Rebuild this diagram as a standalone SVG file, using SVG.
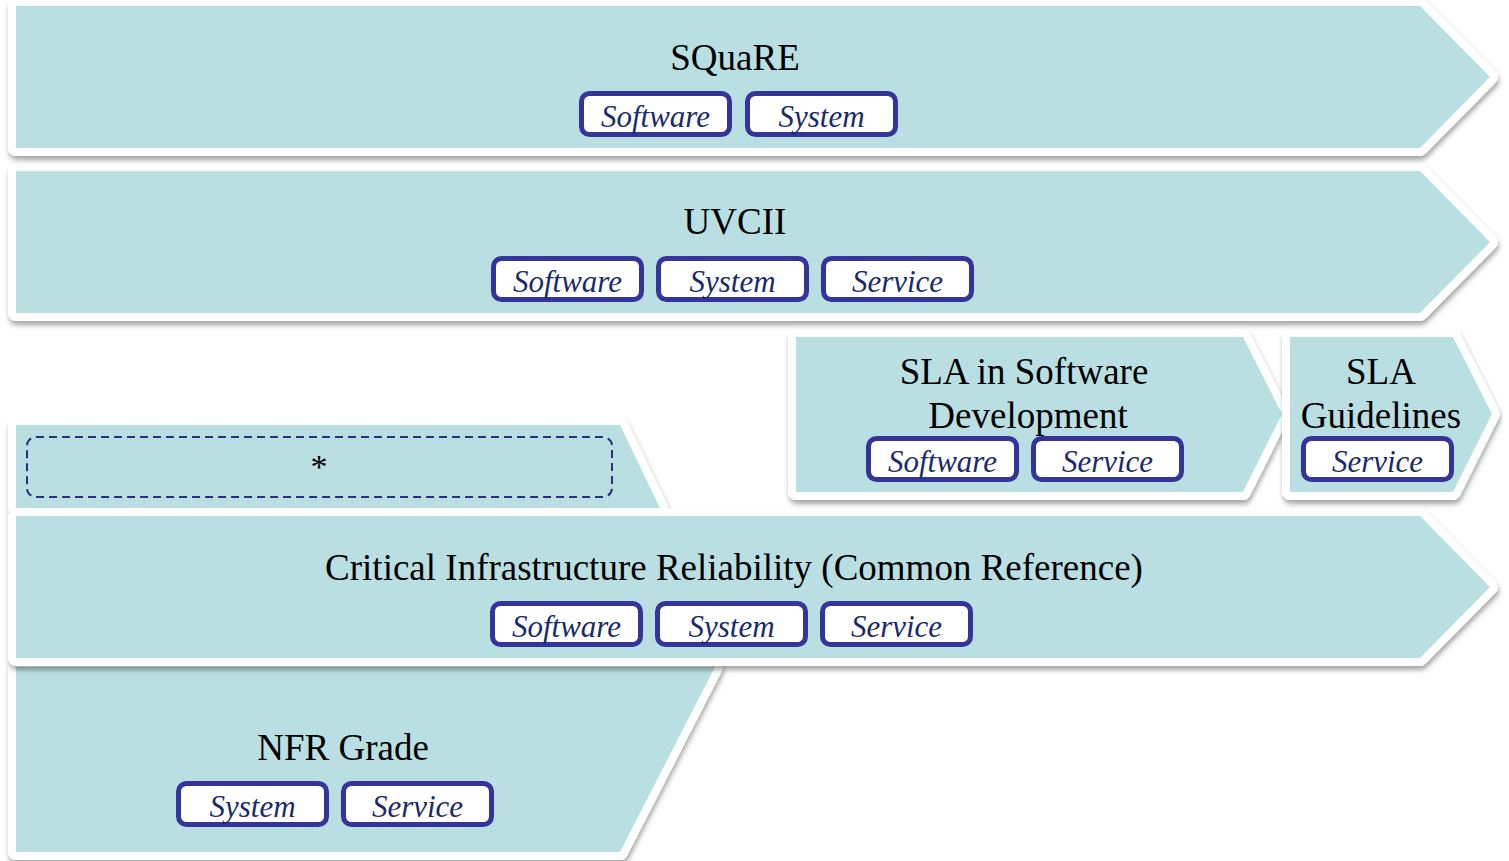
<svg xmlns="http://www.w3.org/2000/svg" width="1509" height="861" viewBox="0 0 1509 861">
<defs>
<filter id="sh" x="-5%" y="-10%" width="110%" height="130%">
<feDropShadow dx="1" dy="4" stdDeviation="2.5" flood-color="#000" flood-opacity="0.35"/>
</filter>
<style>
.band{fill:#B9DFE2;stroke:#fff;stroke-width:16;stroke-linejoin:round;paint-order:stroke fill;}
.title{font-family:"Liberation Serif","Times New Roman",serif;font-size:37px;fill:#000;text-anchor:middle;}
.tag rect{fill:#fff;stroke:#35349A;stroke-width:5;}
.tag text{font-family:"Liberation Serif","Times New Roman",serif;font-style:italic;font-size:31px;fill:#1B2A6B;text-anchor:middle;}
.dash{fill:none;stroke:#2B2E7A;stroke-width:2;stroke-dasharray:8,5;}
</style>
</defs>
<rect width="1509" height="861" fill="#fff"/>

<g id="nfr" filter="url(#sh)">
<path class="band" d="M16,667 H715 L620,852 H16 Z"/>
</g>
<g id="star" filter="url(#sh)">
<path class="band" d="M16,425 H620 L660,508 H16 Z"/>
</g>
<g id="sla-dev" filter="url(#sh)">
<path class="band" d="M796,337 H1243 L1282,414 L1243,492 H796 Z"/>
</g>
<g id="sla-guide" filter="url(#sh)">
<path class="band" d="M1290,337 H1453 L1492,414 L1453,492 H1290 Z"/>
</g>
<g id="critical" filter="url(#sh)">
<path class="band" d="M16,516 H1420 L1490,587 L1420,658 H16 Z"/>
</g>
<g id="uvcii" filter="url(#sh)">
<path class="band" d="M16,171 H1420 L1490,242 L1420,313 H16 Z"/>
</g>
<g id="square" filter="url(#sh)">
<path class="band" d="M16,6 H1420 L1490,77 L1420,148 H16 Z"/>
</g>

<g id="square-content">
<text class="title" x="735" y="70">SQuaRE</text>
<g class="tag"><rect x="581.5" y="93.5" width="148" height="41" rx="8"/><text x="655.5" y="127">Software</text></g>
<g class="tag"><rect x="747.5" y="93.5" width="148" height="41" rx="8"/><text x="821.5" y="127">System</text></g>
</g>

<g id="uvcii-content">
<text class="title" x="735" y="234">UVCII</text>
<g class="tag"><rect x="493.5" y="258.5" width="148" height="41" rx="8"/><text x="567.5" y="292">Software</text></g>
<g class="tag"><rect x="658.5" y="258.5" width="148" height="41" rx="8"/><text x="732.5" y="292">System</text></g>
<g class="tag"><rect x="823.5" y="258.5" width="148" height="41" rx="8"/><text x="897.5" y="292">Service</text></g>
</g>

<g id="sla-dev-content">
<text class="title" x="1024" y="384">SLA in Software</text>
<text class="title" x="1028" y="428">Development</text>
<g class="tag"><rect x="868.5" y="438.5" width="148" height="41" rx="8"/><text x="942.5" y="472">Software</text></g>
<g class="tag"><rect x="1033.5" y="438.5" width="148" height="41" rx="8"/><text x="1107.5" y="472">Service</text></g>
</g>

<g id="sla-guide-content">
<text class="title" x="1381" y="384">SLA</text>
<text class="title" x="1381" y="428">Guidelines</text>
<g class="tag"><rect x="1303.5" y="438.5" width="148" height="41" rx="8"/><text x="1377.5" y="472">Service</text></g>
</g>

<g id="star-content">
<rect class="dash" x="27" y="437" width="585" height="60" rx="9"/>
<text x="319" y="478" font-family="Liberation Serif, serif" font-size="34" text-anchor="middle" fill="#000">*</text>
</g>

<g id="critical-content">
<text class="title" x="734" y="580">Critical Infrastructure Reliability (Common Reference)</text>
<g class="tag"><rect x="492.5" y="603.5" width="148" height="41" rx="8"/><text x="566.5" y="637">Software</text></g>
<g class="tag"><rect x="657.5" y="603.5" width="148" height="41" rx="8"/><text x="731.5" y="637">System</text></g>
<g class="tag"><rect x="822.5" y="603.5" width="148" height="41" rx="8"/><text x="896.5" y="637">Service</text></g>
</g>

<g id="nfr-content">
<text class="title" x="343" y="760">NFR Grade</text>
<g class="tag"><rect x="178.5" y="783.5" width="148" height="41" rx="8"/><text x="252.5" y="817">System</text></g>
<g class="tag"><rect x="343.5" y="783.5" width="148" height="41" rx="8"/><text x="417.5" y="817">Service</text></g>
</g>

<g id="connectors"></g>
</svg>
